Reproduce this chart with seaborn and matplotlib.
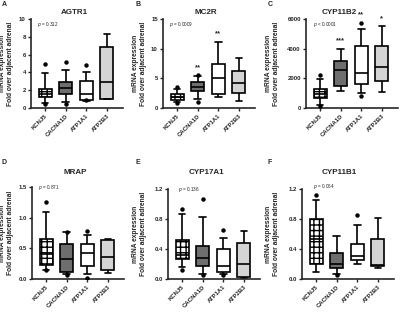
from matplotlib import pyplot as plt
import pandas as pd
import seaborn as sns

genes = ["KCNJ5", "CACNA1D", "ATP1A1", "ATP2B3"]
box_colors = ["white", "#6e6e6e", "white", "#d4d4d4"]

titles = ["AGTR1", "MC2R", "CYP11B2", "MRAP", "CYP17A1", "CYP11B1"]
letters = ["A", "B", "C", "D", "E", "F"]
pvals = ["= 0.312", "= 0.0009", "< 0.0001", "= 0.871", "= 0.136", "= 0.064"]

# whisker low, q1, median, q3, whisker high for each gene
agtr1 = [[0.6, 1.2, 1.55, 2.1, 3.9], [0.7, 1.6, 2.3, 2.9, 4.3],
         [0.8, 0.95, 1.6, 3.0, 4.1], [1.0, 1.05, 2.9, 6.9, 8.3]]
mc2r = [[1.0, 1.4, 1.8, 2.3, 3.2], [1.5, 2.8, 3.5, 4.3, 5.4],
        [1.9, 2.4, 5.1, 7.5, 11.1], [1.2, 2.6, 4.2, 6.3, 8.4]]
cyp11b2 = [[200, 650, 930, 1300, 1950], [1150, 1500, 2550, 3200, 4000],
           [1000, 1600, 2350, 4200, 5350], [1100, 1800, 2750, 4150, 5500]]
mrap = [[0.15, 0.23, 0.41, 0.66, 1.09], [0.08, 0.12, 0.32, 0.57, 0.76],
        [0.08, 0.22, 0.43, 0.57, 0.72], [0.10, 0.15, 0.36, 0.63, 0.65]]
cyp17a1 = [[0.16, 0.27, 0.32, 0.52, 0.87], [0.07, 0.18, 0.28, 0.44, 0.83],
           [0.07, 0.10, 0.17, 0.40, 0.55], [0.01, 0.03, 0.20, 0.48, 0.64]]
cyp11b1 = [[0.10, 0.20, 0.53, 0.80, 1.05], [0.07, 0.15, 0.20, 0.35, 0.57],
           [0.20, 0.26, 0.31, 0.47, 0.72], [0.15, 0.18, 0.19, 0.54, 0.82]]

# points outside the whiskers
agtr1_out = [[5.0, 0.5], [5.2, 0.45], [4.8, 0.85], []]
mc2r_out = [[3.6, 0.9], [5.5, 1.0], [], []]
cyp11b2_out = [[2200, 150], [], [5750, 800], []]
mrap_out = [[1.25, 0.14], [0.77, 0.07], [0.79, 0.02], []]
cyp17a1_out = [[0.94, 0.12], [1.07, 0.05], [0.66, 0.05], []]
cyp11b1_out = [[1.12], [0.06], [0.85], []]

stars = [["", "", "", ""], ["", "**", "**", ""], ["", "***", "**", "*"],
         ["", "", "", ""], ["", "", "", ""], ["", "", "", ""]]

yticks = [[0, 2, 4, 6, 8, 10], [0, 5, 10, 15], [0, 2000, 4000, 6000],
          [0.0, 0.5, 1.0, 1.5], [0.0, 0.4, 0.8, 1.2], [0.0, 0.4, 0.8, 1.2]]
ytick_labels = [["0", "2", "4", "6", "8", "10"], ["0", "5", "10", "15"],
                ["0", "2000", "4000", "6000"], ["0.0", "0.5", "1.0", "1.5"],
                ["0.0", "0.4", "0.8", "1.2"], ["0.0", "0.4", "0.8", "1.2"]]

all_stats = [agtr1, mc2r, cyp11b2, mrap, cyp17a1, cyp11b1]
all_out = [agtr1_out, mc2r_out, cyp11b2_out, mrap_out, cyp17a1_out, cyp11b1_out]

sns.set_style("ticks")
plt.rcParams['font.family'] = ['Liberation Sans', 'DejaVu Sans']
plt.rcParams['hatch.linewidth'] = 1.0

fig = plt.figure(figsize=(4.0, 3.14), dpi=100)

# panel layout in pixels
panel_x = [0, 133, 266, 0, 133, 266]
panel_y = [0, 0, 0, 157, 157, 157]
lefts = [31, 163, 306, 32, 168, 302]
tops = [19, 19, 19, 187, 189, 189]
bottoms = [108, 108, 108, 279, 279, 279]
title_x = [74, 206, 339, 75, 206, 339]
title_y = [12, 12, 12, 172, 172, 172]
p_pos = [(0.07, 0.94), (0.07, 0.94), (0.08, 0.94),
         (0.065, 1.0), (0.11, 1.0), (0.12, 1.03)]
width_px = 92

for i in range(6):
    l, t, b = lefts[i], tops[i], bottoms[i]
    ax = fig.add_axes([l / 400, (314 - b) / 314, width_px / 400, (b - t) / 314])

    rows = []
    for g, s in zip(genes, all_stats[i]):
        for v in s:
            rows.append({'gene': g, 'value': v})
    df = pd.DataFrame(rows)
    orows = []
    for g, o in zip(genes, all_out[i]):
        for v in o:
            orows.append({'gene': g, 'value': v})
    odf = pd.DataFrame(orows)

    sns.boxplot(data=df, x='gene', y='value', hue='gene', order=genes,
                hue_order=genes, palette=box_colors, whis=(0, 100),
                width=0.63, linecolor='black', linewidth=1.2,
                showfliers=False, legend=False, ax=ax)
    ax.patches[0].set_hatch('+++')

    sns.stripplot(data=odf, x='gene', y='value', order=genes, jitter=False,
                  color='black', size=3.2, ax=ax)

    ymax = yticks[i][-1]
    for j, st in enumerate(stars[i]):
        if st:
            top = max(all_stats[i][j] + all_out[i][j])
            ax.text(j, top + ymax * 0.05, st, ha='center', va='bottom',
                    fontsize=5.5, fontweight='bold', clip_on=False)

    ax.set_xlim(-0.68, 3.78)
    ax.set_ylim(0, ymax)
    ax.set_yticks(yticks[i])
    ax.set_yticklabels(ytick_labels[i], fontsize=4.3, fontweight='bold')
    ax.set_xticks(range(4))
    ax.set_xticklabels(genes, rotation=45, ha='right', rotation_mode='anchor',
                       fontsize=4.3, fontweight='bold')
    ax.set_xlabel("")
    ax.set_ylabel("mRNA expression\nFold over adjacent adrenal", fontsize=4.8,
                  fontweight='bold', linespacing=1.15)
    # right edge of the label sits ~14 px into the panel
    ax.yaxis.set_label_coords((panel_x[i] + 14 - l) / width_px, 0.5)
    ax.tick_params(axis='both', width=1.0, length=2.5, pad=1.2)
    for sp in ['left', 'bottom']:
        ax.spines[sp].set_linewidth(1.2)
    sns.despine(ax=ax)
    ax.text(p_pos[i][0], p_pos[i][1], r"$p$ " + pvals[i],
            transform=ax.transAxes, fontsize=3.3, va='center', ha='left')
    fig.text(title_x[i] / 400, 1 - title_y[i] / 314, titles[i], fontsize=5.8,
             fontweight='bold', ha='center', va='center')
    fig.text((panel_x[i] + 2) / 400, 1 - (panel_y[i] + 5) / 314, letters[i],
             fontsize=5, fontweight='bold', va='center', ha='left')

plt.savefig("out.png", dpi=100)
plt.close()
